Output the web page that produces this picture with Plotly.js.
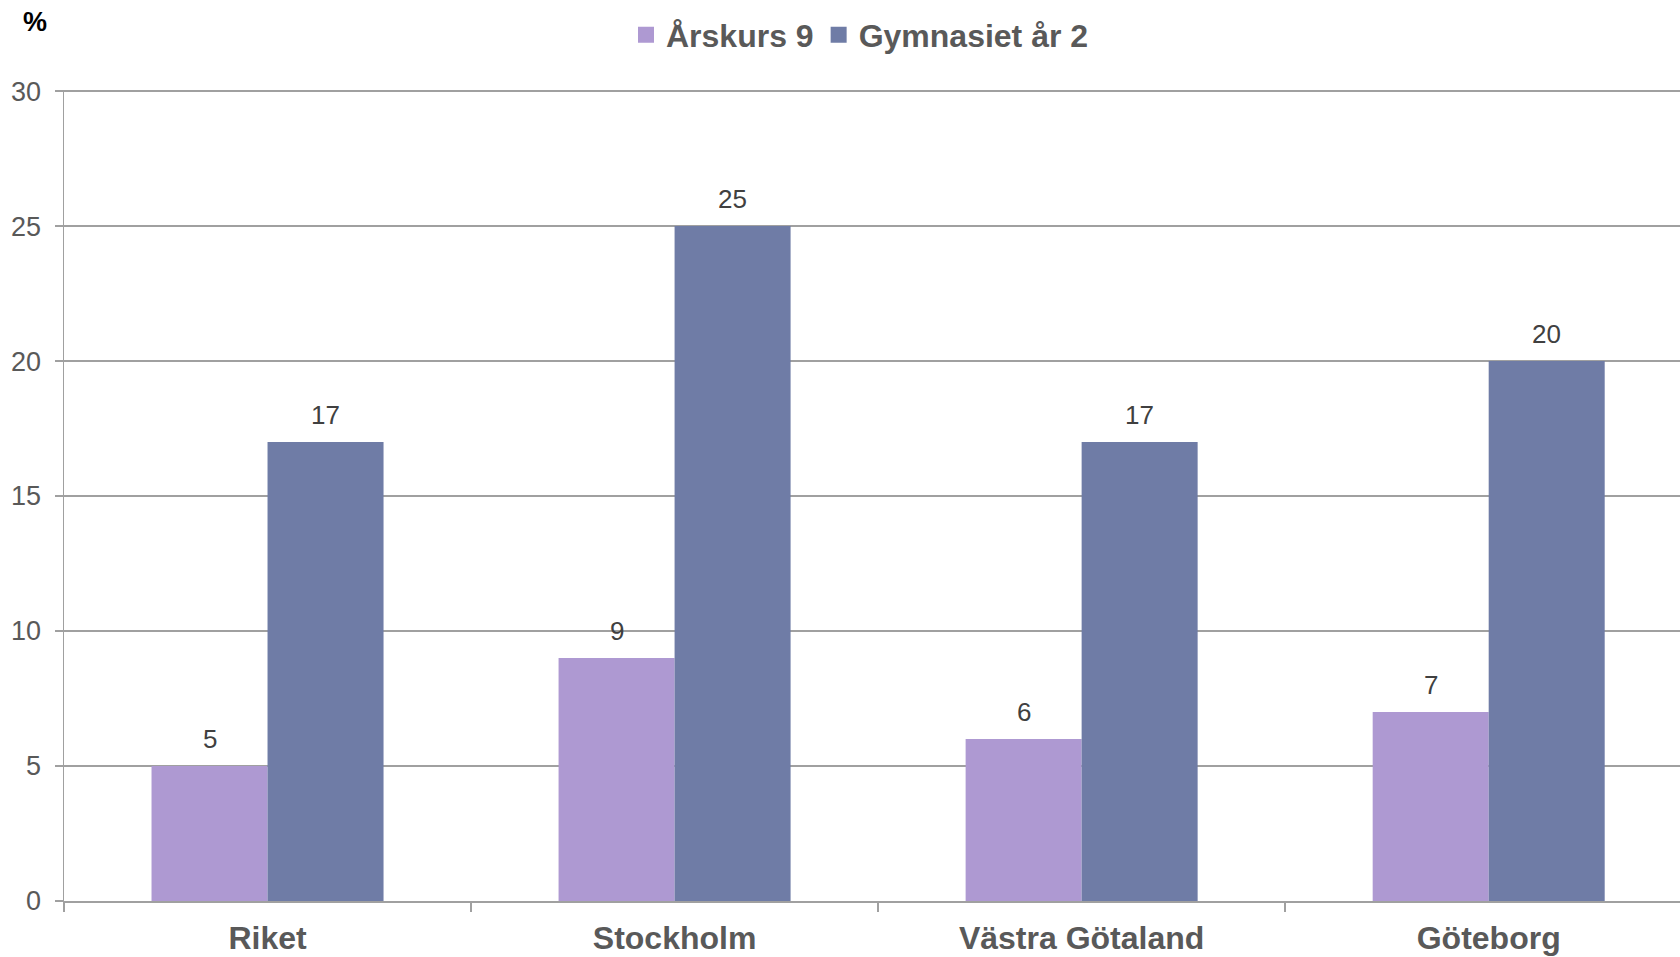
<!DOCTYPE html>
<html>
<head>
<meta charset="utf-8">
<script src="https://cdn.plot.ly/plotly-3.0.1.min.js"></script>
<style>html,body{margin:0;padding:0;background:#fff;}#chart{width:1680px;height:957px;}</style>
</head>
<body>
<div id="chart"></div>
<script>
const categories = ["Riket", "Stockholm", "Västra Götaland", "Göteborg"];
const seriesNames = ["Årskurs 9", "Gymnasiet år 2"];
const arskurs9 = [5, 9, 6, 7];
const gymnasiet2 = [17, 25, 17, 20];
const yTicks = [0, 5, 10, 15, 20, 25, 30];
const colors = ["#AE99D2", "#6F7CA6"];

const FONT = "Liberation Sans, Arial, sans-serif";
const seriesValues = [arskurs9, gymnasiet2];

const traces = seriesValues.map((vals, s) => ({
  type: "bar",
  name: seriesNames[s],
  x: categories,
  y: vals,
  marker: {color: colors[s], line: {width: 0}},
  showlegend: false,
  hoverinfo: "none"
}));
// legend entries with larger square symbols
seriesNames.forEach((n, s) => {
  traces.push({
    type: "scatter", mode: "markers", name: n,
    x: [null], y: [null],
    marker: {symbol: "square", size: 17, color: colors[s]},
    showlegend: true, hoverinfo: "none"
  });
});

const barOffset = 0.1425;
const annotations = [];
seriesValues.forEach((vals, s) => {
  vals.forEach((v, i) => {
    annotations.push({
      x: i + (s === 0 ? -barOffset : barOffset),
      y: v,
      xref: "x", yref: "y",
      text: String(v),
      showarrow: false,
      yanchor: "middle",
      yshift: 27,
      font: {family: FONT, size: 26, color: "#404040"}
    });
  });
});
annotations.push({
  xref: "paper", yref: "paper",
  x: (35 - 64) / 1616, y: 1 + (90 - 22) / 811,
  xanchor: "center", yanchor: "middle",
  text: "<b>%</b>", showarrow: false,
  font: {family: FONT, size: 27, color: "#000000"}
});

const layout = {
  width: 1680, height: 957,
  margin: {l: 64, r: 0, t: 90, b: 56},
  paper_bgcolor: "#ffffff", plot_bgcolor: "#ffffff",
  barmode: "group",
  bargap: 0.43,
  bargroupgap: 0,
  showlegend: true,
  legend: {
    orientation: "h",
    xref: "container", yref: "container",
    x: 860 / 1680, y: 1 - 35 / 957,
    xanchor: "center", yanchor: "middle",
    font: {family: FONT, size: 32, color: "#595959", weight: "bold"},
    itemclick: false, itemdoubleclick: false
  },
  xaxis: {
    type: "category",
    range: [-0.5, 3.47],
    showline: true, linecolor: "#a0a0a0", linewidth: 2,
    ticks: "outside", tickson: "boundaries", ticklen: 9, tickcolor: "#a0a0a0", tickwidth: 1.5,
    showgrid: false,
    tickfont: {family: FONT, size: 32, color: "#595959", weight: "bold"},
    ticklabelstandoff: 8,
    fixedrange: true
  },
  yaxis: {
    range: [0, 30.04],
    tickvals: yTicks,
    ticktext: yTicks.map(String),
    showline: true, linecolor: "#a0a0a0", linewidth: 1.5,
    ticks: "outside", ticklen: 8, tickcolor: "#a0a0a0", tickwidth: 1.5,
    showgrid: true, gridcolor: "#a0a0a0", gridwidth: 1.5,
    zeroline: false,
    tickfont: {family: FONT, size: 27, color: "#595959"},
    ticklabelstandoff: 8,
    fixedrange: true
  },
  annotations: annotations
};

Plotly.newPlot("chart", traces, layout, {staticPlot: true, displayModeBar: false});
</script>
</body>
</html>
